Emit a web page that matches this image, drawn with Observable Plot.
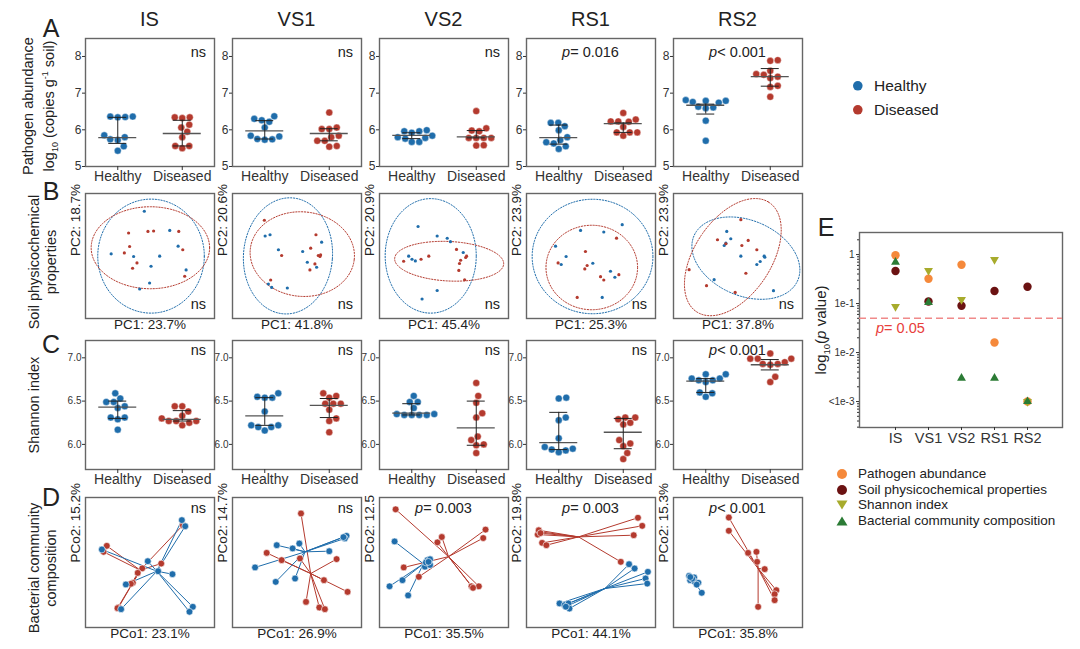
<!DOCTYPE html>
<html><head><meta charset="utf-8">
<script src="https://cdn.jsdelivr.net/npm/d3@7"></script>
<script src="https://cdn.jsdelivr.net/npm/@observablehq/plot@0.6"></script>
<style>
body{margin:0;background:#fff;}
#fig{position:relative;width:1080px;height:649px;overflow:hidden;background:#fff;font-family:"Liberation Sans",Arial,sans-serif;color:#222;}
.t{position:absolute;white-space:nowrap;line-height:1;}
</style></head><body><div id="fig"></div>
<script>
// ---------------- data ----------------
const stages = ["IS","VS1","VS2","RS1","RS2"];
const groups = ["Healthy","Diseased"];

// A: pathogen abundance, log10 copies per g soil
const pathogenHealthy = [
 [6.36,6.35,6.34,6.36,5.85,5.80,5.74,5.72,5.55,5.43],
 [6.37,6.30,6.26,6.22,6.06,5.84,5.82,5.74,5.73,5.75],
 [5.99,5.96,5.96,5.92,5.84,5.80,5.78,5.76,5.67,5.67],
 [6.19,6.19,6.10,5.99,5.80,5.72,5.66,5.63,5.55,5.48],
 [6.81,6.79,6.79,6.76,6.74,6.63,6.61,6.59,6.25,5.70]];
const pathogenDiseased = [
 [6.34,6.32,6.34,6.14,6.06,5.95,5.80,5.56,5.50,5.56],
 [6.47,6.06,6.02,6.02,5.84,5.80,5.70,5.70,5.56,5.54],
 [6.51,5.98,6.04,5.96,5.78,5.78,5.78,5.78,5.57,5.58],
 [6.46,6.28,6.23,6.23,6.22,6.08,5.93,5.93,5.93,5.84],
 [7.88,7.90,7.50,7.61,7.52,7.45,7.41,7.20,7.17,6.90]];
// [median, lower, upper]
const pathogenHealthyStats = [[5.79,5.63,6.34],[5.97,5.75,6.25],[5.85,5.76,5.92],[5.79,5.61,6.13],[6.67,6.43,6.70]];
const pathogenDiseasedStats = [[5.90,5.56,6.26],[5.90,5.70,6.03],[5.81,5.78,5.98],[6.17,5.93,6.19],[7.45,7.19,7.67]];
const pathogenP = ["ns","ns","ns","<i>p</i>= 0.016","<i>p</i>&lt; 0.001"];

// B: soil physicochemical PCA scores
const pcaBlue = [
 [[45.6,85.8],[65.3,70.5],[71.8,57.9],[57.5,49.9],[37.3,49.6],[19.9,51.7],[50.8,41.8],[78,38.9],[49.7,28.4],[42,23.6]],
 [[25.3,66],[29.1,67],[35.6,55],[54.4,53.6],[69.1,61.1],[58,45],[65.2,41],[27.8,27.6],[30.4,24.9],[42.5,24.4]],
 [[29.9,73.6],[44.7,66],[52.5,64.2],[55,61.5],[22.6,49.9],[25.2,47.4],[27.8,46.1],[64.9,52.8],[44.7,22.4],[33,15.6]],
 [[74.2,75.1],[41.9,70.5],[59.9,69.2],[22.5,57.9],[30.7,49.6],[26.9,43.2],[51.4,44.2],[65.1,37.8],[68.5,33],[58.7,16.9]],
 [[41.3,69.7],[44.4,63.8],[39.3,58.4],[40.6,60.3],[52.2,49.9],[70.3,49.9],[70.8,49.1],[67.2,45.6],[64.6,43.2],[31.5,31.1],[77.5,22.3]]];
const pcaRed = [
 [[33.4,68.4],[48.4,69.7],[52.8,70],[72.3,69.7],[34.2,57.6],[30.1,52.5],[75.4,55],[39.9,44.5],[36.5,40.2],[76.9,33.8]],
 [[24.7,78.6],[64.7,67],[60.6,56.3],[38.1,50.4],[66.5,50.4],[67.8,49.6],[68.3,50.9],[63.9,43.7],[60,38.9],[29.6,30.8]],
 [[18.7,45.8],[32.2,47.4],[38.2,49.9],[59.7,55.3],[62.9,46.6],[67.5,49.9],[66.8,48.8],[62,44],[61.5,38.5],[66,31]],
 [[69.8,64.3],[45.7,53.6],[24.5,44.5],[47,42.4],[45.2,39.7],[57.4,33.5],[59.9,30.8],[71.6,35.1],[39.3,16.9]],
 [[52.2,79.1],[34.1,63],[40.6,59.8],[53,58.4],[57.9,62.5],[64.6,55],[56.1,36.2],[12.1,39.1],[25.6,26.3],[47.8,20.9]]];
// ellipse [cx, cy, semi-axis a, semi-axis b, angle deg]
const ellipseBlue = [[50.8,49.9,41.3,45.6,0],[43,50.1,34.5,46.5,-4],[39.7,50.1,35.3,45.8,0],[51.2,49.6,46.8,45.8,0],[56.1,48.3,44,30,-25]];
const ellipseRed  = [[50.3,56.6,45.9,32.8,0],[54.1,51.5,40.5,33.8,-6],[54,45.8,42.3,15.8,-3],[50.6,40.8,35.5,33.8,0],[46,49.1,52,30,58]];
const pc1Labels = ["PC1: 23.7%","PC1: 41.8%","PC1: 45.4%","PC1: 25.3%","PC1: 37.8%"];
const pc2Labels = ["PC2: 18.7%","PC2: 20.6%","PC2: 20.9%","PC2: 23.9%","PC2: 23.9%"];

// C: Shannon index
const shannonHealthy = [
 [6.59,6.53,6.49,6.49,6.44,6.42,6.31,6.31,6.29,6.17],
 [6.59,6.54,6.54,6.55,6.38,6.22,6.22,6.20,6.20,6.16],
 [6.56,6.49,6.49,6.42,6.35,6.34,6.34,6.34,6.34,6.35],
 [6.54,6.53,6.31,6.28,6.07,5.97,5.95,5.94,5.93,5.91],
 [6.81,6.81,6.76,6.76,6.74,6.72,6.74,6.60,6.59,6.55]];
const shannonDiseased = [
 [6.44,6.44,6.38,6.33,6.30,6.27,6.27,6.27,6.25,6.22],
 [6.54,6.56,6.59,6.47,6.47,6.47,6.40,6.30,6.27,6.14],
 [6.71,6.56,6.48,6.36,6.31,6.09,6.05,6.00,5.99,5.90],
 [6.29,6.31,6.31,6.23,6.25,6.01,6.05,5.98,5.90,5.83],
 [7.05,6.99,6.99,6.99,6.95,6.93,6.93,6.92,6.78,6.72]];
const shannonHealthyStats = [[6.43,6.30,6.50],[6.33,6.22,6.54],[6.36,6.34,6.47],[6.02,5.94,6.37],[6.73,6.60,6.76]];
const shannonDiseasedStats = [[6.29,6.27,6.39],[6.45,6.31,6.53],[6.19,5.99,6.50],[6.14,5.95,6.30],[6.92,6.86,6.98]];
const shannonP = ["ns","ns","ns","ns","<i>p</i>&lt; 0.001"];

// D: bacterial community PCoA
const pcoaBlue = [
 [[12.7,60],[74.7,82.6],[77.3,77.9],[48.3,51],[67.4,41],[31.3,33.1],[27.6,14.1],[83.2,15.9],[80.6,12.1],[56.3,43.3]],
 [[17.5,46.2],[34.3,63.3],[46.6,60.8],[51.8,64.6],[75,58.7],[88.4,70.5],[87.1,68.5],[33.5,35.1],[48.5,37.7],[86,69.5]],
 [[11.7,66.2],[7.8,31.7],[17.8,36.4],[22.2,24.7],[35.2,46.8],[37.1,51.9],[39.2,52.5],[39.2,48.1],[36,50],[38,50.5]],
 [[79.5,48.7],[83.8,45.4],[94.1,42.8],[92.3,37.7],[93.6,33.8],[25.6,18.5],[29.5,17.2],[32.6,18.5],[33.3,14.6],[30.5,16]],
 [[12.1,39.7],[13.9,38.5],[16,38.5],[12.9,36.4],[16.5,35.1],[19.3,34.4],[21.9,26.7],[14.5,37.5],[18,33],[13,38.8]]];
const pcoaRed = [
 [[16.5,62.8],[14,58.2],[75.5,78.7],[58.7,49.2],[36.7,34.4],[35.2,33.6],[25.6,15.4],[24.8,14.9],[44,45.5],[40.5,42]],
 [[53.1,87.7],[26.5,57.4],[38.1,51.8],[52.3,53.1],[80.7,52.6],[70.9,36.4],[89.2,27.4],[57,19.7],[67.3,15.4],[71.6,14.1]],
 [[12.5,90.9],[18.8,46.2],[30.5,39],[44.9,65.5],[48.3,69.6],[82.2,75.3],[80.4,68.8],[71.3,31.7],[77,31.7],[72.5,30.5]],
 [[10.3,73.6],[8.7,71.5],[12.1,65.1],[15.4,63.3],[9.5,74.8],[86.4,84.4],[89.7,78.2],[83.1,71],[73.1,50.5],[10.9,72.6]],
 [[42.9,84.6],[42.9,74.4],[57.8,57.4],[64.3,58.2],[64.8,50.5],[70.7,44.9],[79.7,28.7],[78.4,25.6],[78.4,21],[65.6,15.9]]];
const pcoaBlueCentroid = [[55.3,43.3],[56.2,58.2],[34,49],[60.8,30],[15.5,36]];
const pcoaRedCentroid  = [[42.4,44.1],[60.6,41.5],[53.5,54.5],[40.3,69.7],[65.6,45.4]];
const pco1Labels = ["PCo1: 23.1%","PCo1: 26.9%","PCo1: 35.5%","PCo1: 44.1%","PCo1: 35.8%"];
const pco2Labels = ["PCo2: 15.2%","PCo2: 14.7%","PCo2: 12.5","PCo2: 19.8%","PCo2: 15.3%"];
const pcoaP = ["ns","ns","<i>p</i>= 0.003","<i>p</i>= 0.003","<i>p</i>&lt; 0.001"];

// E: p values per stage
const pPathogen  = [0.97, 0.32, 0.62, 0.016, 0.001];
const pSoil      = [0.46, 0.11, 0.09, 0.18, 0.22];
const pShannon   = [0.087, 0.47, 0.12, 0.79, 0.001];
const pBacterial = [0.70, 0.105, 0.003, 0.003, 0.001];
const eSeries = ["Pathogen abundance","Soil physicochemical properties","Shannon index","Bacterial community composition"];
const eTickValues = [1, 0.1, 0.01, 0.001];
const eTickLabels = ["1","1e-1","1e-2","<1e-3"];

// ---------------- layout & style ----------------
const BLUE = "#1f6dab", RED = "#b43a2e";
const E_COLORS = ["#f5893b", "#6b1212", "#a7ab2c", "#2b7b35"];
const FONT = '"Liberation Sans", Arial, sans-serif';
const fig = document.getElementById("fig");
const colLeft = [85, 232, 379, 526, 673];
const PW = 129;
const rowA = {top: 38, h: 128}, rowB = {top: 193, h: 125}, rowC = {top: 340, h: 129}, rowD = {top: 497, h: 130};
const ML = 30, MR = 4, MT = 2, MB = 26;
const svgStyle = {background: "none", overflow: "visible", fontFamily: FONT, fontSize: "12px", color: "#333"};
const FRAME = {stroke: "#666", strokeWidth: 1.4};

function place(el, left, top) {
  el.style.position = "absolute";
  el.style.left = left + "px";
  el.style.top = top + "px";
  fig.appendChild(el);
}
function text(html, x, y, {size = 14, anchor = "middle", rotate = 0, color = "#222", lh = 1, weight = "normal"} = {}) {
  const d = document.createElement("div");
  d.className = "t";
  d.innerHTML = html;
  d.style.fontSize = size + "px";
  d.style.color = color;
  d.style.lineHeight = lh;
  d.style.fontWeight = weight;
  d.style.left = x + "px";
  d.style.top = y + "px";
  const tx = anchor === "middle" ? "-50%" : anchor === "end" ? "-100%" : "0";
  d.style.textAlign = "center";
  d.style.transform = `translate(${tx},-50%)` + (rotate ? ` rotate(${rotate}deg)` : "");
  fig.appendChild(d);
  return d;
}

// simple beeswarm: horizontal pixel offsets so that dots don't overlap
function swarm(values, pxY, r) {
  const order = d3.range(values.length).sort((a, b) => values[a] - values[b]);
  const placed = [], out = new Array(values.length);
  for (const i of order) {
    const py = values[i] * pxY;
    for (let k = 0; k < 400; k++) {
      const c = k === 0 ? 0 : (k % 2 ? 1 : -1) * Math.ceil(k / 2) * 0.5;
      if (placed.every(p => (c - p[0]) ** 2 + (py - p[1]) ** 2 >= (2 * r + 0.2) ** 2)) {
        placed.push([c, py]); out[i] = c; break;
      }
    }
  }
  return out;
}

function dotPanel(row, col, hv, dv, hs, ds, yDomain, yTicks, fmt, tickFont) {
  const pxX = PW / 2, pxY = row.h / (yDomain[1] - yDomain[0]), r = 3.5;
  const pts = [];
  [hv, dv].forEach((vals, g) => {
    const off = swarm(vals, pxY, r);
    vals.forEach((v, i) => pts.push({x: g + 1 + off[i] / pxX, y: v, g}));
  });
  const stats = [hs, ds].map((s, g) => ({x: g + 1, med: s[0], lo: s[1], hi: s[2]}));
  const mw = 19 / pxX, cw = 9 / pxX;
  const svg = Plot.plot({
    width: ML + PW + MR, height: MT + row.h + MB,
    marginLeft: ML, marginRight: MR, marginTop: MT, marginBottom: MB,
    style: svgStyle,
    x: {domain: [0.5, 2.5]},
    y: {domain: yDomain},
    color: {type: "ordinal", domain: [0, 1], range: [BLUE, RED]},
    marks: [
      Plot.frame(FRAME),
      Plot.axisY({ticks: yTicks, tickFormat: fmt, tickSize: 3, tickPadding: 1, fontSize: tickFont, label: null}),
      Plot.axisX({ticks: [1, 2], tickFormat: d => groups[d - 1], tickSize: 4, tickPadding: 1, fontSize: 14, label: null}),
      Plot.dot(pts, {x: "x", y: "y", r, fill: "g", stroke: "white", strokeWidth: 0.4}),
      Plot.ruleY(stats, {y: "med", x1: d => d.x - mw, x2: d => d.x + mw, stroke: "#555", strokeWidth: 1.3}),
      Plot.ruleX(stats, {x: "x", y1: "lo", y2: "hi", stroke: "#222", strokeWidth: 1}),
      Plot.ruleY(stats, {y: "lo", x1: d => d.x - cw, x2: d => d.x + cw, stroke: "#222", strokeWidth: 1}),
      Plot.ruleY(stats, {y: "hi", x1: d => d.x - cw, x2: d => d.x + cw, stroke: "#222", strokeWidth: 1})
    ]
  });
  place(svg, colLeft[col] - ML, row.top - MT);
}

function ellipsePoints(e) {
  const [cx, cy, a, b, deg] = e, t0 = deg * Math.PI / 180;
  return d3.range(0, 2 * Math.PI, Math.PI / 90).map(t => [
    cx + a * Math.cos(t) * Math.cos(t0) - b * Math.sin(t) * Math.sin(t0),
    cy + a * Math.cos(t) * Math.sin(t0) + b * Math.sin(t) * Math.cos(t0)]);
}

function axisTextMarks(xl, yl) {
  return [
    Plot.text([yl], {text: d => d, frameAnchor: "left", rotate: -90, dx: -10, fontSize: 13.5, fill: "#222"}),
    Plot.text([xl], {text: d => d, frameAnchor: "bottom", dy: 10, fontSize: 13.5, fill: "#222"})
  ];
}

function pcaPanel(col) {
  const svg = Plot.plot({
    width: ML + PW + MR, height: MT + rowB.h + MB,
    marginLeft: ML, marginRight: MR, marginTop: MT, marginBottom: MB,
    style: svgStyle,
    x: {domain: [0, 100], axis: null}, y: {domain: [0, 100], axis: null},
    marks: [
      Plot.line(ellipsePoints(ellipseBlue[col]), {x: d => d[0], y: d => d[1], curve: "linear-closed", stroke: BLUE, strokeWidth: 1, strokeDasharray: "1.3,1.6"}),
      Plot.line(ellipsePoints(ellipseRed[col]), {x: d => d[0], y: d => d[1], curve: "linear-closed", stroke: RED, strokeWidth: 1, strokeDasharray: "1.3,1.6"}),
      Plot.dot(pcaBlue[col], {x: d => d[0], y: d => d[1], r: 1.6, fill: BLUE}),
      Plot.dot(pcaRed[col], {x: d => d[0], y: d => d[1], r: 1.6, fill: RED}),
      Plot.frame(FRAME),
      ...axisTextMarks(pc1Labels[col], pc2Labels[col])
    ]
  });
  place(svg, colLeft[col] - ML, rowB.top - MT);
}

function pcoaPanel(col) {
  const bc = pcoaBlueCentroid[col], rc = pcoaRedCentroid[col];
  const svg = Plot.plot({
    width: ML + PW + MR, height: MT + rowD.h + MB,
    marginLeft: ML, marginRight: MR, marginTop: MT, marginBottom: MB,
    style: svgStyle,
    x: {domain: [0, 100], axis: null}, y: {domain: [0, 100], axis: null},
    marks: [
      Plot.link(pcoaRed[col], {x1: () => rc[0], y1: () => rc[1], x2: d => d[0], y2: d => d[1], stroke: RED, strokeWidth: 1}),
      Plot.link(pcoaBlue[col], {x1: () => bc[0], y1: () => bc[1], x2: d => d[0], y2: d => d[1], stroke: BLUE, strokeWidth: 1}),
      Plot.dot(pcoaRed[col], {x: d => d[0], y: d => d[1], r: 3.4, fill: RED, stroke: "white", strokeWidth: 0.6}),
      Plot.dot(pcoaBlue[col], {x: d => d[0], y: d => d[1], r: 3.4, fill: BLUE, stroke: "white", strokeWidth: 0.6}),
      Plot.frame(FRAME),
      ...axisTextMarks(pco1Labels[col], pco2Labels[col])
    ]
  });
  place(svg, colLeft[col] - ML, rowD.top - MT);
}

// ---------------- build rows ----------------
stages.forEach((s, i) => {
  text(s, colLeft[i] + PW / 2, 19, {size: 20});
  dotPanel(rowA, i, pathogenHealthy[i], pathogenDiseased[i], pathogenHealthyStats[i], pathogenDiseasedStats[i],
    [5, 8.49], [5, 6, 7, 8], d => String(d), 12);
  pcaPanel(i);
  dotPanel(rowC, i, shannonHealthy[i], shannonDiseased[i], shannonHealthyStats[i], shannonDiseasedStats[i],
    [5.71, 7.2], [6, 6.5, 7], d3.format(".1f"), 10);
  pcoaPanel(i);
  const right = colLeft[i] + PW - 8, mid = colLeft[i] + PW / 2;
  const pa = pathogenP[i];
  text(pa, pa === "ns" ? right : mid, 52, {size: 14.5, anchor: pa === "ns" ? "end" : "middle"});
  text("ns", right, 304, {size: 14.5, anchor: "end"});
  const pc = shannonP[i];
  text(pc, pc === "ns" ? right : mid, 350, {size: 14.5, anchor: pc === "ns" ? "end" : "middle"});
  const pd = pcoaP[i];
  text(pd, pd === "ns" ? right : mid, 508, {size: 14.5, anchor: pd === "ns" ? "end" : "middle"});
});

// row letters & row labels
text("A", 51, 28, {size: 25});
text("B", 51, 191, {size: 25});
text("C", 51, 344, {size: 25});
text("D", 51, 497, {size: 25});
text("E", 826, 227, {size: 25});
text("Pathogen abundance<br>log<sub style='font-size:9px'>10</sub> (copies g<sup style='font-size:9px'>-1</sup> soil)", 42, 106, {size: 14.5, rotate: -90, lh: "17px"});
text("Soil physicochemical<br>properties", 43, 262, {size: 14.5, rotate: -90, lh: "17px"});
text("Shannon index", 34, 405, {size: 14.5, rotate: -90});
text("Bacterial community<br>composition", 43, 568, {size: 14.5, rotate: -90, lh: "17px"});

// top legend
function marker(x, y, r, color) {
  const s = document.createElementNS("http://www.w3.org/2000/svg", "svg");
  s.setAttribute("width", 2 * r + 2); s.setAttribute("height", 2 * r + 2);
  s.innerHTML = `<circle cx="${r + 1}" cy="${r + 1}" r="${r}" fill="${color}"/>`;
  s.style.position = "absolute"; s.style.left = (x - r - 1) + "px"; s.style.top = (y - r - 1) + "px";
  fig.appendChild(s);
  return s;
}
groups.forEach((g, i) => {
  marker(858, 86 + i * 24, 4.8, i ? RED : BLUE);
  text(g, 874, 86 + i * 24, {size: 15.5, anchor: "start"});
});

// ---------------- panel E ----------------
const sqrt3 = Math.sqrt(3);
const triangleDown = {draw(ctx, size) {
  const y = -Math.sqrt(size / (sqrt3 * 3));
  ctx.moveTo(0, -y * 2); ctx.lineTo(-sqrt3 * y, y); ctx.lineTo(sqrt3 * y, y); ctx.closePath();
}};
const eRows = (vals, k) => vals.map((p, i) => ({stage: stages[i], p, k}));
const minorTicks = [];
for (let e = -4; e <= 0; e++) for (let m = 2; m <= 9; m++) {
  const v = m * 10 ** e; if (v > 10 ** -3.53 && v < 10 ** 0.45) minorTicks.push(v);
}
const EML = 42, EMT = 2, EMR = 8, EMB = 26, EW = 203, EH = 195;
const eSvg = Plot.plot({
  width: EML + EW + EMR, height: EMT + EH + EMB,
  marginLeft: EML, marginRight: EMR, marginTop: EMT, marginBottom: EMB,
  style: svgStyle,
  x: {type: "point", domain: stages, padding: 1},
  y: {type: "log", domain: [10 ** -3.53, 10 ** 0.45]},
  marks: [
    Plot.frame(FRAME),
    Plot.axisY({ticks: eTickValues, tickFormat: d => eTickLabels[eTickValues.indexOf(d)], tickSize: 3, tickPadding: 2, fontSize: 10, label: null}),
    Plot.axisY({ticks: minorTicks, tickFormat: () => "", tickSize: 2, label: null}),
    Plot.axisX({tickSize: 3, tickPadding: 2, fontSize: 14.5, label: null}),
    Plot.ruleY([0.05], {stroke: "#f08a8a", strokeWidth: 1.6, strokeDasharray: "7,4"}),
    Plot.dot(eRows(pPathogen, 0), {x: "stage", y: "p", r: 4.2, fill: E_COLORS[0]}),
    Plot.dot(eRows(pSoil, 1), {x: "stage", y: "p", r: 4.2, fill: E_COLORS[1]}),
    Plot.dot(eRows(pShannon, 2), {x: "stage", y: "p", r: 3.3, symbol: triangleDown, fill: E_COLORS[2]}),
    Plot.dot(eRows(pBacterial, 3), {x: "stage", y: "p", r: 3.3, symbol: "triangle", fill: E_COLORS[3]})
  ]
});
place(eSvg, 859 - EML, 232 - EMT);
text("<i>p</i>= 0.05", 876, 328, {size: 14.5, anchor: "start", color: "#e8403b"});
text("log<sub style='font-size:9.5px'>10</sub>(<i>p</i> value)", 822, 330, {size: 15, rotate: -90});

// E legend
eSeries.forEach((name, i) => {
  const y = 474 + i * 15.7;
  const s = document.createElementNS("http://www.w3.org/2000/svg", "svg");
  s.setAttribute("width", 14); s.setAttribute("height", 14);
  const c = E_COLORS[i];
  s.innerHTML = i < 2 ? `<circle cx="7" cy="7" r="5" fill="${c}"/>`
    : i === 2 ? `<path d="M1.5,2.5 L12.5,2.5 L7,11.5 Z" fill="${c}"/>`
    : `<path d="M1.5,11.5 L12.5,11.5 L7,2.5 Z" fill="${c}"/>`;
  s.style.position = "absolute"; s.style.left = "835px"; s.style.top = (y - 7) + "px";
  fig.appendChild(s);
  text(name, 858, y, {size: 13.5, anchor: "start"});
});
</script></body></html>
